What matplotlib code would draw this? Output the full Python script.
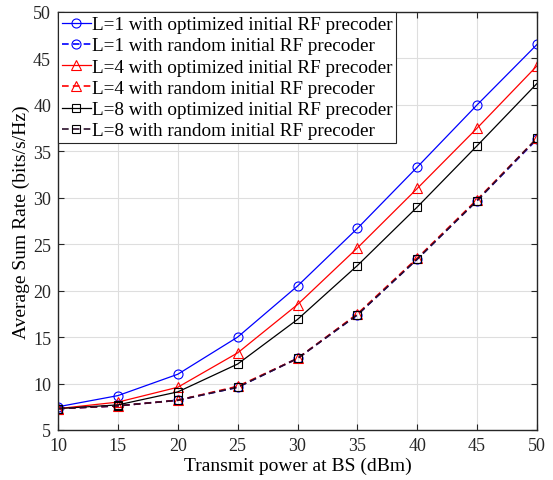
import numpy as np
import matplotlib
matplotlib.use("Agg")
import matplotlib.pyplot as plt

plt.rcParams.update({
    "font.family": ["Liberation Serif", "DejaVu Serif"],
    "mathtext.fontset": "stix",
    "xtick.direction": "in",
    "ytick.direction": "in",
    "xtick.top": True,
    "ytick.right": True,
    "axes.linewidth": 1.0,
})

# ---- data ----
power_dbm = [10, 15, 20, 25, 30, 35, 40, 45, 50]
l1_opt = [7.5, 8.7, 11.0, 15.0, 20.5, 26.7, 33.3, 40.0, 46.5]
l1_rand = [7.3, 7.6, 8.2, 9.6, 12.7, 17.4, 23.4, 29.7, 36.3]
l4_opt = [7.3, 8.0, 9.6, 13.3, 18.5, 24.6, 31.0, 37.5, 44.2]
l4_rand = [7.3, 7.6, 8.2, 9.7, 12.7, 17.5, 23.5, 29.8, 36.4]
l8_opt = [7.3, 7.7, 9.1, 12.1, 16.9, 22.7, 29.0, 35.6, 42.3]
l8_rand = [7.3, 7.6, 8.2, 9.6, 12.7, 17.4, 23.4, 29.7, 36.4]

series = [
    ("L=1 with optimized initial RF precoder", l1_opt, "blue", "-", "o", 0.9),
    ("L=1 with random initial RF precoder", l1_rand, "blue", "--", "o", 1.2),
    ("L=4 with optimized initial RF precoder", l4_opt, "red", "-", "^", 0.9),
    ("L=4 with random initial RF precoder", l4_rand, "red", "--", "^", 1.2),
    ("L=8 with optimized initial RF precoder", l8_opt, "black", "-", "s", 0.9),
    ("L=8 with random initial RF precoder", l8_rand, "#2a0f2a", "--", "s", 1.2),
]

fig = plt.figure(figsize=(5.53, 4.81), dpi=100)
ax = fig.add_axes([0.105, 0.104, 0.866, 0.869])

for label, vals, col, ls, mk, lw in series:
    mec = "black" if col == "#2a0f2a" else col
    ax.plot(power_dbm, vals, color=col, linestyle=ls, marker=mk, lw=lw,
            markersize=6.5 if mk != "s" else 5.5, markerfacecolor="none",
            markeredgecolor=mec, markeredgewidth=0.8, label=label,
            dashes=(4, 2.5) if ls == "--" else (None, None))

ax.set_xlim(10, 50)
ax.set_ylim(5, 50)
ax.set_xticks(np.arange(10, 51, 5))
ax.set_yticks(np.arange(5, 51, 5))
ax.tick_params(labelsize=13, length=4, width=0.8, colors="#262626", pad=5)
ax.grid(True, color="#dedede", linewidth=0.8)
ax.set_axisbelow(True)
for s in ax.spines.values():
    s.set_color("#262626")

ax.set_xlabel("Transmit power at BS (dBm)", fontsize=14, labelpad=2)
ax.set_ylabel("Average Sum Rate (bits/s/Hz)", fontsize=14, labelpad=2)

leg = ax.legend(loc="upper left", fontsize=13.8, handlelength=1.5,
                handletextpad=0.05, borderpad=0.2, labelspacing=0.2,
                borderaxespad=0.0, fancybox=False, framealpha=1,
                edgecolor="#262626")
leg.get_frame().set_linewidth(0.8)

fig.savefig("out.png", dpi=100)
